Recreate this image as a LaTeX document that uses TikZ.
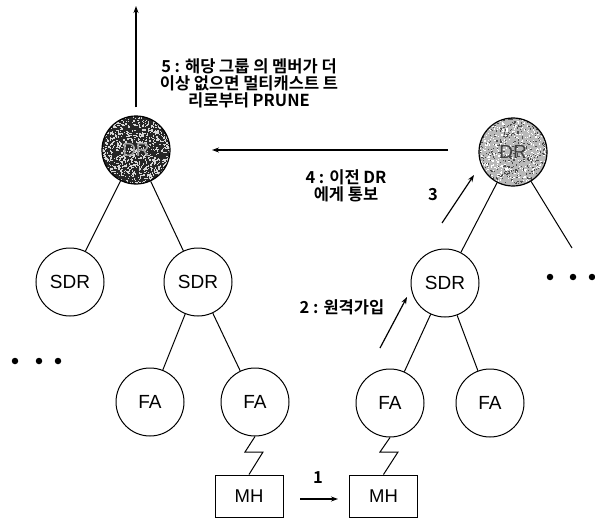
\documentclass[tikz,border=0pt]{standalone}
\usepackage{fontspec}
\setmainfont{Liberation Sans}
\newfontfamily\kr{Noto Sans CJK KR}[BoldFont={Noto Sans CJK KR Bold}]
\usetikzlibrary{arrows.meta,calc}
\begin{document}
\begin{tikzpicture}[x=1pt,y=-1pt,
  line width=1pt,
  router/.style={circle,draw,minimum size=68pt,inner sep=0pt,font=\fontsize{19}{19}\selectfont},
  hostbox/.style={rectangle,draw,minimum width=68pt,minimum height=42pt,inner sep=0pt,font=\fontsize{18.5}{18.5}\selectfont},
  tree/.style={line width=1pt},
  msg/.style={line width=1.2pt,-{Stealth[length=7pt,width=5pt]}},
  note/.style={font=\kr\bfseries\fontsize{16.5}{17}\selectfont,align=center},
  dotmark/.style={circle,fill=black,minimum size=6.5pt,inner sep=0pt}]
\useasboundingbox (0,0) rectangle (595,519);

% designated routers, grainy shaded
\fill[gray!30!black] (136,150) circle (34);
\begin{scope}
  \clip (136,150) circle (34);
  \pgfmathsetseed{11}
  \foreach \i in {1,...,1000} {
    \fill[white!70!gray] ($(136,150)+({rand*34},{rand*34})$) rectangle ++(1.3,1.3);
  }
\end{scope}
\node[router,draw=black,line width=1.2pt,text=gray!70] (DRL) at (136,150) {DR};

\fill[gray!55] (513,152) circle (34);
\begin{scope}
  \clip (513,152) circle (34);
  \pgfmathsetseed{5}
  \foreach \i in {1,...,500} {
    \fill[black!70] ($(513,152)+({rand*34},{rand*34})$) rectangle ++(1.2,1.2);
  }
  \foreach \i in {1,...,400} {
    \fill[white] ($(513,152)+({rand*34},{rand*34})$) rectangle ++(1.2,1.2);
  }
\end{scope}
\node[router,draw=black,line width=1.2pt,text=black!75] (DRR) at (513,152) {DR};

% subtree routers and foreign agents
\node[router] (SDR1) at (70,282) {SDR};
\node[router] (SDR2) at (198,282) {SDR};
\node[router] (SDR3) at (445,283) {SDR};
\node[router] (FA1) at (150,402) {FA};
\node[router] (FA2) at (255,402) {FA};
\node[router] (FA3) at (390,403) {FA};
\node[router] (FA4) at (490,403) {FA};

% mobile hosts
\node[hostbox] (MH1) at (249,496) {MH};
\node[hostbox] (MH2) at (383.5,496) {MH};

% tree links
\draw[tree] (DRL) -- (SDR1);
\draw[tree] (DRL) -- (SDR2);
\draw[tree] (SDR2) -- (FA1);
\draw[tree] (SDR2) -- (FA2);
\draw[tree] (DRR) -- (SDR3);
\coordinate (moreR) at (572,248);
\draw[tree] (DRR) -- (moreR);
\draw[tree] (SDR3) -- (FA3);
\draw[tree] (SDR3) -- (FA4);

% wireless links
\draw[tree] (FA2.south) -- (245,452) -- (263,452) -- (MH1.north);
\draw[tree] (FA3.south) -- (380,452) -- (398,452) -- (MH2.north);

% ellipsis marks
\node[dotmark] (dl1) at (15,361) {};
\node[dotmark] (dl2) at (39,361) {};
\node[dotmark] (dl3) at (58,361) {};
\node[dotmark] (dr1) at (550,277) {};
\node[dotmark] (dr2) at (573,277) {};
\node[dotmark] (dr3) at (592,277) {};

% message arrows
\coordinate (upEnd) at (134,6);
\draw[msg,shorten <=8pt] (DRL.north) -- (DRL.north |- upEnd);
\coordinate (a4s) at (448,150);
\coordinate (a4e) at (212,150);
\draw[msg] (a4s) -- (a4e);
\coordinate (a3s) at (442,223);
\coordinate (a3e) at (474,175);
\draw[msg] (a3s) -- (a3e);
\coordinate (a2s) at (380,348);
\coordinate (a2e) at (407,297);
\draw[msg] (a2s) -- (a2e);
\coordinate (a1s) at (300,499);
\coordinate (a1e) at (338,499);
\draw[msg] (a1s) -- (a1e);

% step labels
\node[note] (n5) at (249,83) {5 : 해당 그룹 의 멤버가 더\\이상 없으면 멀티캐스트 트\\리로부터 PRUNE};
\node[note] (n4) at (346,186) {4 : 이전 DR\\에게 통보};
\node[note] (n3) at (433,195) {3};
\node[note] (n2) at (342,307) {2 : 원격가입};
\node[note] (n1) at (318,478) {1};
\end{tikzpicture}
\end{document}
